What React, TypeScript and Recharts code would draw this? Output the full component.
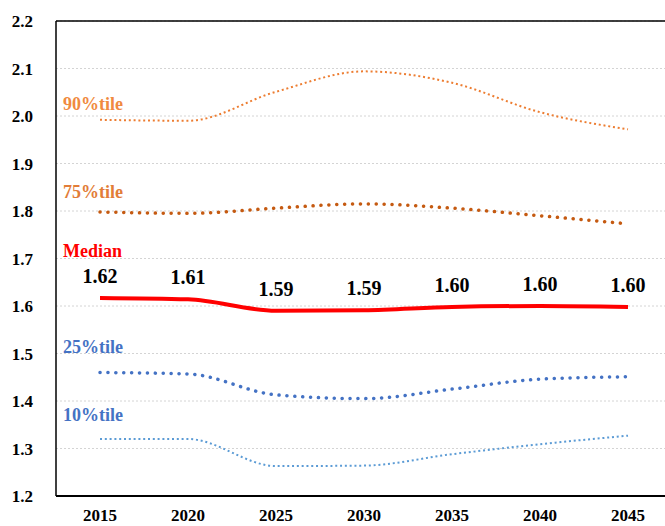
import { LineChart, Line, XAxis, YAxis, CartesianGrid, ReferenceLine, LabelList } from "recharts";

const years = ["2015", "2020", "2025", "2030", "2035", "2040", "2045"];
const p90 = [1.992, 1.99, 2.051, 2.094, 2.07, 2.008, 1.972];
const p75 = [1.798, 1.795, 1.806, 1.815, 1.806, 1.79, 1.773];
const median = [1.617, 1.614, 1.59, 1.591, 1.598, 1.6, 1.598];
const p25 = [1.46, 1.457, 1.413, 1.405, 1.425, 1.446, 1.451];
const p10 = [1.32, 1.32, 1.263, 1.264, 1.288, 1.309, 1.327];
const yTicks = [1.2, 1.3, 1.4, 1.5, 1.6, 1.7, 1.8, 1.9, 2.0, 2.1, 2.2];

const data = years.map((year, i) => ({
  year,
  p90: p90[i],
  p75: p75[i],
  median: median[i],
  p25: p25[i],
  p10: p10[i],
}));

const FONT = "Liberation Serif, Times New Roman, serif";

// name label drawn next to the first point of a series
const seriesLabel = (text: string, color: string, dy: number) => (props: any) => {
  if (props.index !== 0) return null;
  return (
    <text
      x={props.x - 37}
      y={props.y + dy}
      fill={color}
      style={{ fontFamily: FONT, fontWeight: "bold", fontSize: 18 }}
      textAnchor="start"
    >
      {text}
    </text>
  );
};

const medianValue = (props: any) => (
  <text
    x={props.x}
    y={props.y - 15}
    fill="#000"
    style={{ fontFamily: FONT, fontWeight: "bold", fontSize: 20 }}
    textAnchor="middle"
  >
    {Number(props.value).toFixed(2)}
  </text>
);

const tickStyle = { fontFamily: FONT, fontWeight: "bold", fontSize: 17, fill: "#000", style: { fontFamily: FONT } };

export default function App() {
  return (
    <div style={{ position: "absolute", left: 0, top: 0, width: 665, height: 526, overflow: "hidden", background: "#fff", fontFamily: FONT }}>
      <LineChart width={680} height={526} data={data} margin={{ top: 21, right: 8, bottom: 0, left: 0 }}>
        <CartesianGrid vertical={false} stroke="#d4d4d4" strokeDasharray="2 2" />
        <XAxis
          dataKey="year"
          height={30}
          padding={{ left: 44, right: 44 }}
          tickLine={false}
          tickSize={0}
          tickMargin={13}
          axisLine={{ stroke: "#000", strokeWidth: 2 }}
          tick={tickStyle}
          interval={0}
        />
        <YAxis
          width={56}
          domain={[1.2, 2.2]}
          ticks={yTicks}
          tickFormatter={(v: number) => v.toFixed(1)}
          tickLine={false}
          tickSize={0}
          tickMargin={23}
          axisLine={{ stroke: "#000", strokeWidth: 1.5 }}
          tick={tickStyle}
          interval={0}
        />
        <ReferenceLine y={2.2} stroke="#000" strokeWidth={1.5} />
        <Line
          type="monotone"
          dataKey="p90"
          stroke="#ED7D31"
          strokeWidth={2}
          strokeDasharray="2 2.8"
          dot={false}
          isAnimationActive={false}
        >
          <LabelList dataKey="p90" content={seriesLabel("90%tile", "#F08A40", -10)} />
        </Line>
        <Line
          type="monotone"
          dataKey="p75"
          stroke="#C55A11"
          strokeWidth={3.5}
          strokeLinecap="round"
          strokeDasharray="0.1 7.8"
          dot={false}
          isAnimationActive={false}
        >
          <LabelList dataKey="p75" content={seriesLabel("75%tile", "#E27D38", -14)} />
        </Line>
        <Line
          type="monotone"
          dataKey="median"
          stroke="#FF0000"
          strokeWidth={4}
          dot={false}
          isAnimationActive={false}
        >
          <LabelList dataKey="median" content={seriesLabel("Median", "#FF0000", -41)} />
          <LabelList dataKey="median" content={medianValue} />
        </Line>
        <Line
          type="monotone"
          dataKey="p25"
          stroke="#4472C4"
          strokeWidth={3.5}
          strokeLinecap="round"
          strokeDasharray="0.1 7.8"
          dot={false}
          isAnimationActive={false}
        >
          <LabelList dataKey="p25" content={seriesLabel("25%tile", "#4472C4", -20)} />
        </Line>
        <Line
          type="monotone"
          dataKey="p10"
          stroke="#5B9BD5"
          strokeWidth={2}
          strokeDasharray="2 2.8"
          dot={false}
          isAnimationActive={false}
        >
          <LabelList dataKey="p10" content={seriesLabel("10%tile", "#4472C4", -18)} />
        </Line>
      </LineChart>
    </div>
  );
}
